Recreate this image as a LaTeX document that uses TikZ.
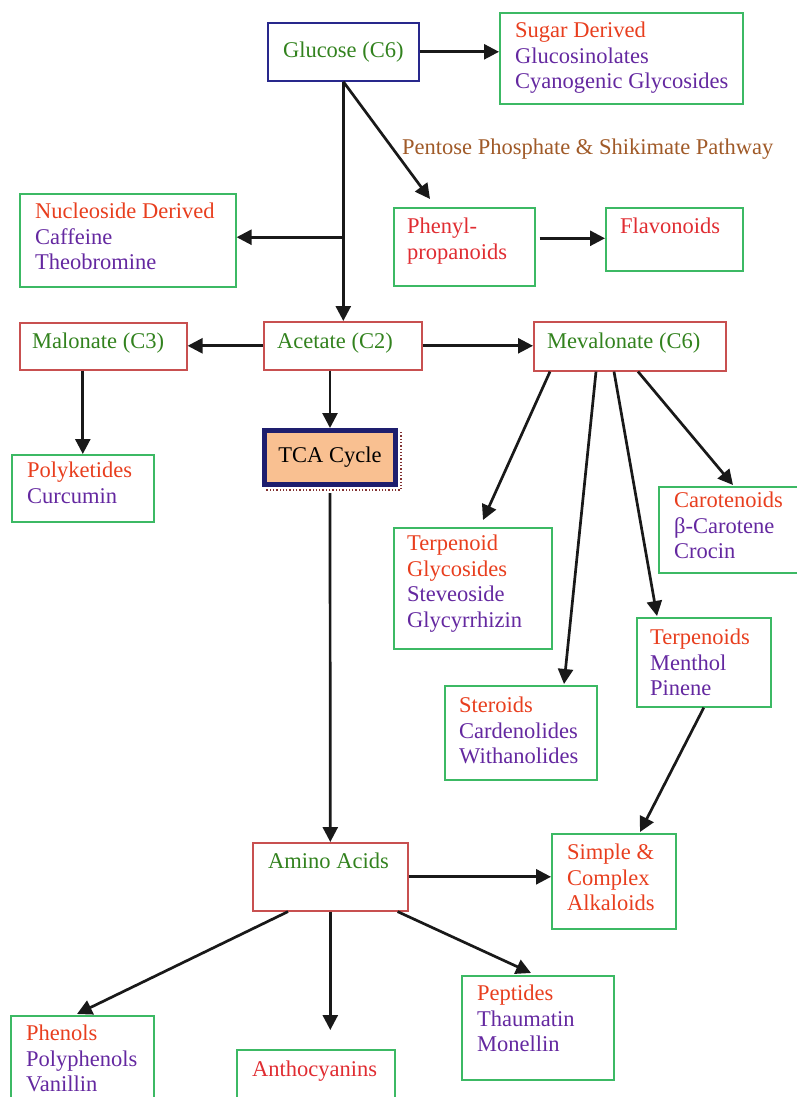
\documentclass[tikz,border=0pt]{standalone}
\usepackage{fontspec}
\setmainfont{Liberation Serif}
\usetikzlibrary{arrows.meta, calc}

\definecolor{txtgreen}{RGB}{50,130,30}
\definecolor{txtred}{RGB}{232,62,30}
\definecolor{txtrose}{RGB}{224,45,50}
\definecolor{txtpurple}{RGB}{100,40,160}
\definecolor{txtbrown}{RGB}{160,90,40}
\definecolor{boxgreen}{RGB}{60,185,100}
\definecolor{boxred}{RGB}{200,80,80}
\definecolor{boxblue}{RGB}{40,40,140}
\definecolor{tcanavy}{RGB}{30,30,110}
\definecolor{tcafill}{RGB}{249,192,145}
\definecolor{tcashadow}{RGB}{130,50,50}

\newcommand{\rd}[1]{\textcolor{txtred}{#1}}
\newcommand{\rs}[1]{\textcolor{txtrose}{#1}}
\newcommand{\pu}[1]{\textcolor{txtpurple}{#1}}
\newcommand{\gr}[1]{\textcolor{txtgreen}{#1}}

\begin{document}
\begin{tikzpicture}[x=1pt, y=-1pt,
    every node/.style={font=\fontsize{22.5}{25.5}\selectfont},
    box/.style={draw=#1, line width=1.6pt, anchor=north west, inner sep=0pt},
    lbl/.style={anchor=north west, inner sep=0pt, align=left},
    flow/.style={-{Triangle[length=15pt, width=15pt]}, line width=2.7pt, black!90}]

    \useasboundingbox (0,0) rectangle (797,1097);

    % Izvor: glukoza
    \node[box=boxblue, minimum width=151, minimum height=58] (glucose) at (267,22) {\gr{Glucose (C6)}};

    % Kutije
    \node[box=boxgreen, minimum width=243, minimum height=91] (sugar) at (499,12) {};
    \node[box=boxgreen, minimum width=216, minimum height=93] (nucleo) at (19,193) {};
    \node[box=boxgreen, minimum width=141, minimum height=78] (phenyl) at (393,207) {};
    \node[box=boxgreen, minimum width=137, minimum height=63] (flavo) at (605,207) {};
    \node[box=boxred, minimum width=167, minimum height=47] (malonate) at (19,322) {};
    \node[box=boxred, minimum width=158, minimum height=48] (acetate) at (263,321) {};
    \node[box=boxred, minimum width=192, minimum height=49] (mevalonate) at (533,321) {};
    \node[box=boxgreen, minimum width=142, minimum height=67] (polyk) at (11,454) {};
    \node[box=boxgreen, minimum width=150, minimum height=86] (carot) at (658,486) {};
    \node[box=boxgreen, minimum width=158, minimum height=121] (tglyc) at (393,527) {};
    \node[box=boxgreen, minimum width=134, minimum height=89] (terp) at (636,617) {};
    \node[box=boxgreen, minimum width=152, minimum height=94] (steroid) at (444,685) {};
    \node[box=boxred, minimum width=155, minimum height=68] (amino) at (252,842) {};
    \node[box=boxgreen, minimum width=124, minimum height=95] (alkal) at (551,833) {};
    \node[box=boxgreen, minimum width=152, minimum height=104] (peptide) at (461,975) {};
    \node[box=boxgreen, minimum width=143, minimum height=110] (phenol) at (10,1015) {};
    \node[box=boxgreen, minimum width=158, minimum height=70] (antho) at (236,1049) {};

    % TCA ciklus sa sjenom
    \node[draw=tcanavy, line width=5pt, fill=tcafill, minimum width=131, minimum height=54,
          anchor=north west, inner sep=0pt] (tca) at (262,428) {TCA Cycle};
    \draw[tcashadow, dotted, line width=1.3pt] ($(tca.north east)+(3,4)$) -- ($(tca.south east)+(3,3)$)
        -- ($(tca.south west)+(4,3)$);

    % Tekstovi u kutijama
    \node[lbl] at (515,22) {\rd{Sugar Derived}\\\pu{Glucosinolates}\\\pu{Cyanogenic Glycosides}};
    \node[lbl] at (35,203) {\rd{Nucleoside Derived}\\\pu{Caffeine}\\\pu{Theobromine}};
    \node[lbl] at (407,218) {\rs{Phenyl-}\\\rs{propanoids}};
    \node[lbl] at (620,218) {\rs{Flavonoids}};
    \node[lbl] at (32,333) {\gr{Malonate (C3)}};
    \node[lbl] at (277,333) {\gr{Acetate (C2)}};
    \node[lbl] at (547,333) {\gr{Mevalonate (C6)}};
    \node[lbl] at (27,462) {\rd{Polyketides}\\\pu{Curcumin}};
    \node[lbl] at (674,492) {\rd{Carotenoids}\\\pu{β-Carotene}\\\pu{Crocin}};
    \node[lbl] at (407,535) {\rd{Terpenoid}\\\rd{Glycosides}\\\pu{Steveoside}\\\pu{Glycyrrhizin}};
    \node[lbl] at (650,629) {\rd{Terpenoids}\\\pu{Menthol}\\\pu{Pinene}};
    \node[lbl] at (459,697) {\rd{Steroids}\\\pu{Cardenolides}\\\pu{Withanolides}};
    \node[lbl] at (268,853) {\gr{Amino Acids}};
    \node[lbl] at (567,844) {\rd{Simple \&}\\\rd{Complex}\\\rd{Alkaloids}};
    \node[lbl] at (477,985) {\rd{Peptides}\\\pu{Thaumatin}\\\pu{Monellin}};
    \node[lbl] at (26,1025) {\rd{Phenols}\\\pu{Polyphenols}\\\pu{Vanillin}};
    \node[lbl] at (252,1061) {\rs{Anthocyanins}};

    % Oznaka puta
    \node[lbl] (pentose) at (402,139) {\textcolor{txtbrown}{Pentose Phosphate \& Shikimate Pathway}};

    % Strelice
    \coordinate (branch) at ($(glucose.south)!0.65!(glucose.south |- acetate.north)$);
    \coordinate (anthoend) at (333,1030);
    \draw[flow] (glucose.east) -- (glucose.east -| sugar.west);
    \draw[flow] (glucose.south) -- (glucose.south |- acetate.north);
    \draw[flow] (glucose.south) -- ($(phenyl.north west)+(37,-8)$);
    \draw[flow] (glucose.south |- branch) -- (branch -| nucleo.east);
    \draw[flow] ($(phenyl.east |- flavo.west)+(4,-1)$) -- ($(flavo.west)+(0,-1)$);
    \draw[flow] (acetate.west) -- (acetate.west -| malonate.east);
    \draw[flow] (acetate.east) -- (acetate.east -| mevalonate.west);
    \draw[flow] (polyk.north |- malonate.south) -- (polyk.north);
    \draw[flow] (tca.north |- acetate.south) -- (tca.north);
    \draw[flow] ($(tca.south)+(0,6)$) -- (amino.north);
    \draw[flow] ($(mevalonate.south west)+(17,0)$) -- ($(tglyc.north west)+(90,-7)$);
    \draw[flow] ($(mevalonate.south west)+(63,0)$) -- ($(steroid.north west)+(120,-1)$);
    \draw[flow] ($(mevalonate.south west)+(81,0)$) -- ($(terp.north west)+(21,-1)$);
    \draw[flow] ($(mevalonate.south west)+(105,0)$) -- ($(carot.north west)+(75,-1)$);
    \draw[flow] (terp.south) -- ($(alkal.north west)+(89,-1)$);
    \draw[flow] (amino.east) -- (amino.east -| alkal.west);
    \draw[flow] ($(amino.south west)+(36,0)$) -- ($(phenol.north west)+(67,-1)$);
    \draw[flow] (amino.south) -- (amino.south |- anthoend);
    \draw[flow] ($(amino.south east)+(-11,0)$) -- ($(peptide.north west)+(70,-2)$);

\end{tikzpicture}
\end{document}
